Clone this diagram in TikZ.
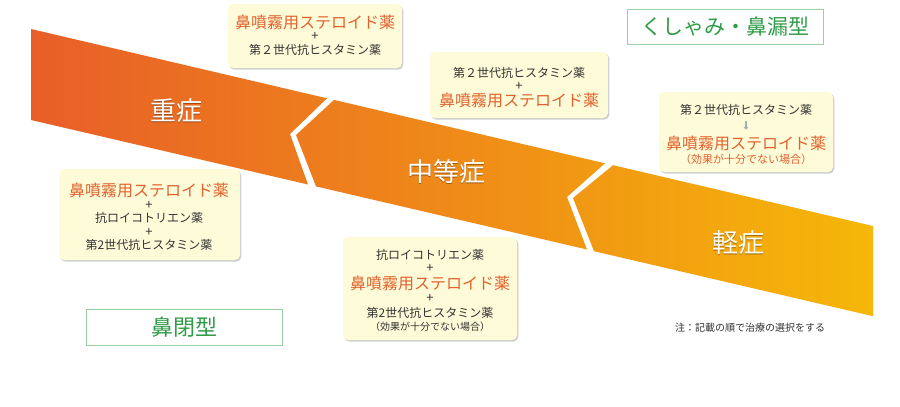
\documentclass[tikz,border=0pt]{standalone}
\usepackage{fontspec}
\setmainfont{Noto Sans CJK JP}
\usetikzlibrary{shadows,arrows.meta}
\definecolor{txt}{HTML}{333333}
\definecolor{orng}{HTML}{E2622E}
\definecolor{grn}{HTML}{2F9B47}
\definecolor{grnline}{HTML}{9BD0A5}
\definecolor{boxfill}{HTML}{FEFBD9}
\definecolor{bandL}{RGB}{232,94,40}
\definecolor{bandM}{RGB}{241,140,18}
\definecolor{bandR}{RGB}{246,183,8}
\definecolor{arrowc}{HTML}{A6AEBC}
\newcommand\fsz[1]{\fontsize{#1}{#1}\selectfont}
\tikzset{
  medbox/.style={fill=boxfill, rounded corners=5pt, inner sep=0pt,
    drop shadow={shadow xshift=1.3pt, shadow yshift=-1.6pt, opacity=0.35, fill=black!55}},
  typebox/.style={draw=grnline, line width=0.9pt, fill=white, inner sep=0pt},
  typetext/.style={inner sep=0pt, text height=17.2pt, text depth=1.3pt, text=grn, font=\fsz{21}},
  drug/.style={inner sep=0pt, text height=9.8pt, text depth=0.7pt, text=txt, font=\fsz{12}},
  steroid/.style={inner sep=0pt, text height=13.1pt, text depth=1pt, text=orng, font=\fsz{16}},
  plus/.style={inner sep=0pt, text height=10.7pt, text depth=0.8pt, text=txt, font=\fsz{13}},
  note/.style={inner sep=0pt, text height=9pt, text depth=0.7pt, text=orng, font=\fsz{11}},
  notedark/.style={inner sep=0pt, text height=8.2pt, text depth=0.6pt, text=txt, font=\fsz{10}},
  sev/.style={inner sep=0pt, text height=21.3pt, text depth=1.6pt, text=white, font=\fsz{26}},
  sevshadow/.style={sev, text=black, opacity=0.35},
}
\begin{document}
\begin{tikzpicture}[x=1pt,y=-1pt]
\useasboundingbox[fill=white] (0,0) rectangle (900,407);

% band
\shade[left color=bandL, middle color=bandM, right color=bandR]
  (31,29) -- (327,98.3) -- (290,134) -- (308,184.5) -- (31,120) -- cycle
  (334,99.9) -- (605,163.3) -- (567,197) -- (587,249.5) -- (316,186.4) -- (296,135) -- cycle
  (613,165.2) -- (873,226) -- (873,316.2) -- (594,251.2) -- (573,198) -- cycle;

% severity labels
\node[sevshadow] (s1s) at (176.8,111.8) {重症};
\node[sev] (s1) at (176,111) {重症};
\node[sevshadow] (s2s) at (446.8,172.8) {中等症};
\node[sev] (s2) at (446,172) {中等症};
\node[sevshadow] (s3s) at (738.8,243.8) {軽症};
\node[sev] (s3) at (738,243) {軽症};

% type boxes
\node[typebox, minimum width=196pt, minimum height=35pt] (tA) at (725,26.5) {};
\node[typetext] (tAt) at (tA.center) {くしゃみ・鼻漏型};
\node[typebox, minimum width=196pt, minimum height=36pt] (tB) at (184,327) {};
\node[typetext, font=\fsz{22}, text height=18pt] (tBt) at (tB.center) {鼻閉型};

% box A
\node[medbox, minimum width=174pt, minimum height=64pt] (A) at (315,36) {};
\node[steroid] (A1) at (315,22.5) {鼻噴霧用ステロイド薬};
\node[plus] (A2) at (315,36) {+};
\node[drug] (A3) at (315,50) {第２世代抗ヒスタミン薬};

% box B
\node[medbox, minimum width=178pt, minimum height=66pt] (B) at (519,85) {};
\node[drug] (B1) at (519,73) {第２世代抗ヒスタミン薬};
\node[plus] (B2) at (519,86) {+};
\node[steroid] (B3) at (519,100) {鼻噴霧用ステロイド薬};

% box C
\node[medbox, minimum width=174pt, minimum height=80pt] (C) at (746,132) {};
\node[drug] (C1) at (746,110) {第２世代抗ヒスタミン薬};
\node[steroid] (C3) at (746,143) {鼻噴霧用ステロイド薬};
\node[note] (C4) at (746,159) {（効果が十分でない場合）};
\draw[arrowc, line width=1.3pt, shorten <=5.75pt, shorten >=6pt,
  -{Triangle[width=5pt,length=3pt]}] (C1.south) -- (C3.north);

% box D
\node[medbox, minimum width=181pt, minimum height=91pt] (D) at (149.5,214.5) {};
\node[steroid] (D1) at (149,190) {鼻噴霧用ステロイド薬};
\node[plus] (D2) at (149,204.5) {+};
\node[drug] (D3) at (149,218) {抗ロイコトリエン薬};
\node[plus] (D4) at (149,231.5) {+};
\node[drug] (D5) at (149,245) {第2世代抗ヒスタミン薬};

% box E
\node[medbox, minimum width=174pt, minimum height=103pt] (E) at (430,288.5) {};
\node[drug] (E1) at (430,255) {抗ロイコトリエン薬};
\node[plus] (E2) at (430,268) {+};
\node[steroid] (E3) at (430,283) {鼻噴霧用ステロイド薬};
\node[plus] (E4) at (430,298) {+};
\node[drug] (E5) at (430,312.5) {第2世代抗ヒスタミン薬};
\node[notedark] (E6) at (430,327) {（効果が十分でない場合）};

% note
\node[notedark, anchor=west] (N) at (675,328) {注：記載の順で治療の選択をする};
\end{tikzpicture}
\end{document}
